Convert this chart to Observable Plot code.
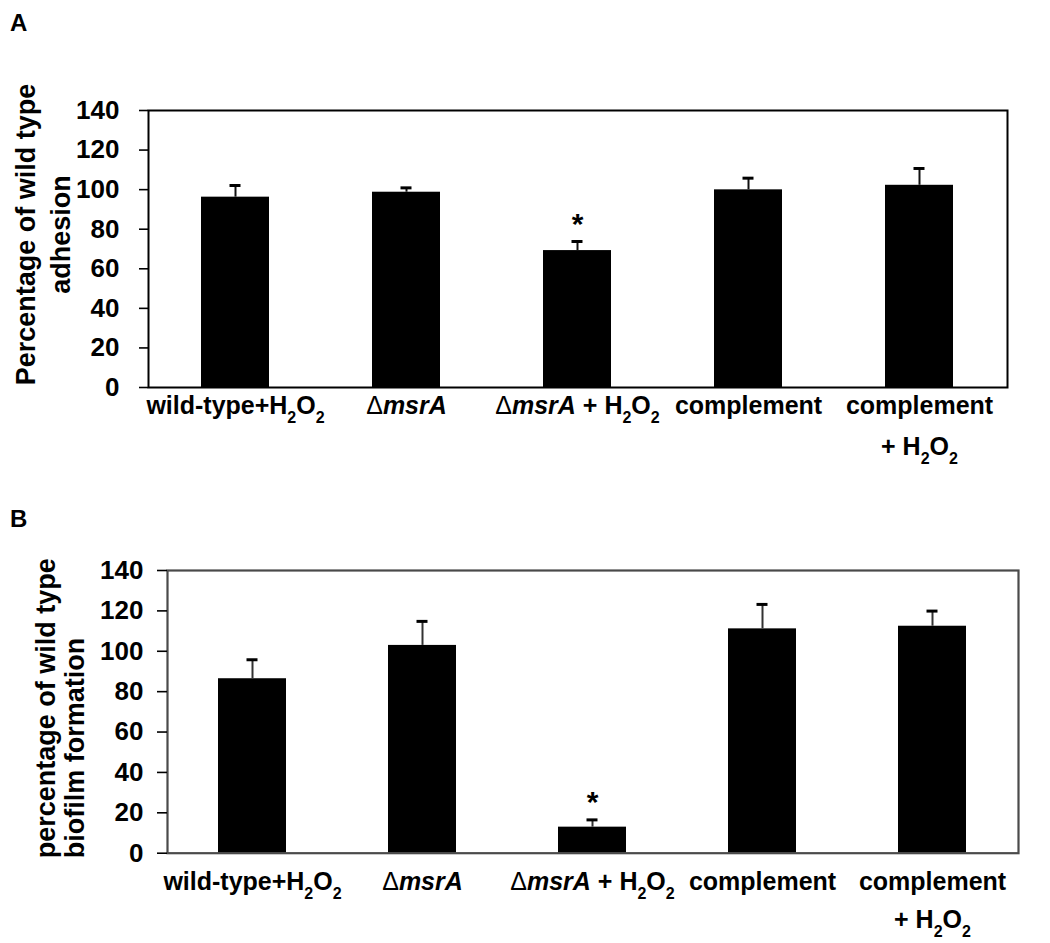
<!DOCTYPE html>
<html>
<head>
<meta charset="utf-8">
<script src="https://cdn.jsdelivr.net/npm/d3@7"></script>
<script src="https://cdn.jsdelivr.net/npm/@observablehq/plot@0.6"></script>
<style>
  html, body { margin: 0; padding: 0; background: white; }
  #wrap { position: relative; width: 1050px; height: 943px; overflow: hidden; font-family: "Liberation Sans", Arial, sans-serif; }
  .panel { position: absolute; left: 0; }
  .letter { position: absolute; left: 10px; font-weight: bold; font-size: 24px; line-height: 24px; z-index: 5; }
</style>
</head>
<body>
<div id="wrap">
  <div id="panelA" class="panel" style="top:0px"></div>
  <div id="panelB" class="panel" style="top:470px"></div>
  <div class="letter" style="top:11px">A</div>
  <div class="letter" style="top:507px">B</div>
</div>
<script>
// ---- data ----
const categories = ["wild-type+H2O2", "ΔmsrA", "ΔmsrA + H2O2", "complement", "complement\n+ H2O2"];
const adhesion = [96.2, 98.7, 69.2, 99.9, 102.2];
const adhesionErr = [5.9, 2.2, 4.6, 5.9, 8.5];
const biofilm = [86.4, 102.9, 12.9, 111.1, 112.4];
const biofilmErr = [9.4, 11.9, 3.6, 12.1, 7.5];
const significance = ["", "", "*", "", ""];
const yTicks = [0, 20, 40, 60, 80, 100, 120, 140];
const titleA = "Percentage of wild type\nadhesion";
const titleB = "percentage of wild type\nbiofilm formation";

function segments(s) {
  const out = [];
  let i = 0;
  while (i < s.length) {
    if (s.startsWith("msrA", i)) { out.push({t: "msrA", style: "italic"}); i += 4; continue; }
    const c = s[i];
    if (c === "2" && i > 0 && /[HO]/.test(s[i - 1])) { out.push({t: "2", style: "sub"}); i++; continue; }
    if (c === "Δ") { out.push({t: "Δ", style: "delta"}); i++; continue; }
    const last = out[out.length - 1];
    if (last && last.style === "plain") last.t += c; else out.push({t: c, style: "plain"});
    i++;
  }
  return out;
}

function richLabel(textEl, label, lh) {
  const NS = "http://www.w3.org/2000/svg";
  while (textEl.firstChild) textEl.removeChild(textEl.firstChild);
  textEl.removeAttribute("y");
  textEl.removeAttribute("dy");
  label.split("\n").forEach((line, li) => {
    const lt = document.createElementNS(NS, "tspan");
    lt.setAttribute("x", 0);
    lt.setAttribute("y", `${0.71 + li * lh}em`);
    let shift = 0;
    segments(line).forEach(seg => {
      const t = document.createElementNS(NS, "tspan");
      t.textContent = seg.t;
      if (seg.style === "sub") {
        t.setAttribute("font-size", "16px");
        t.setAttribute("dy", 9 - shift);
        shift = 9;
      } else {
        if (shift) { t.setAttribute("dy", -shift); shift = 0; }
        if (seg.style === "italic") t.setAttribute("font-style", "italic");
        if (seg.style === "delta") t.setAttribute("font-weight", "normal");
      }
      lt.appendChild(t);
    });
    textEl.appendChild(lt);
  });
}

function panel(values, errs, title, o) {
  const data = categories.map((c, i) => ({
    name: c, value: values[i], hi: values[i] + errs[i], star: significance[i]
  }));
  const chart = Plot.plot({
    width: 1050,
    height: o.height,
    marginTop: o.mt, marginBottom: o.mb, marginLeft: o.ml, marginRight: o.mr,
    style: {fontFamily: '"Liberation Sans", Arial, sans-serif', fontWeight: "bold", color: "black", background: "white", overflow: "visible"},
    x: {domain: categories, paddingInner: 0.6, paddingOuter: 0.3},
    y: {domain: [0, 140]},
    marks: [
      Plot.barY(data, {x: "name", y: "value", fill: "black"}),
      Plot.ruleX(data, {x: "name", y1: "value", y2: "hi", stroke: o.errColor, strokeWidth: 2}),
      Plot.tickY(data, {x: "name", y: "hi", stroke: "black", strokeWidth: 3, insetLeft: 28.5, insetRight: 28.5}),
      Plot.text(data, {x: "name", y: "hi", text: "star", dy: -17.5, fontSize: 30, fontWeight: "bold"}),
      Plot.frame({stroke: o.frameColor, strokeWidth: o.frameWidth}),
      Plot.axisY({ticks: yTicks, tickSize: o.tickSize, tickPadding: o.tickPadding, fontSize: 26, strokeWidth: 1.6, label: null}),
      Plot.axisX({tickSize: 0, tickPadding: o.xPad, fontSize: 25, label: null}),
      Plot.text([title], {frameAnchor: o.titleAnchor, textAnchor: o.titleTextAnchor, lineAnchor: "middle", rotate: -90, dx: o.titleDx, dy: o.titleDy, fontSize: 27, lineHeight: o.titleLH, text: d => d})
    ]
  });
  chart.querySelectorAll('g[aria-label="x-axis tick label"] text').forEach((t, i) => richLabel(t, categories[i], o.xLH));
  return chart;
}

document.getElementById("panelA").appendChild(panel(adhesion, adhesionErr, titleA, {
  height: 470, mt: 110, mb: 83, ml: 148, mr: 43,
  frameColor: "black", frameWidth: 2, errColor: "#111",
  tickSize: 9, tickPadding: 20, xPad: 9, xLH: 1.64,
  titleAnchor: "left", titleTextAnchor: "middle", titleDx: -107, titleDy: -14.5, titleLH: 1.27
}));
document.getElementById("panelB").appendChild(panel(biofilm, biofilmErr, titleB, {
  height: 473, mt: 100, mb: 90.3, ml: 167, mr: 32,
  frameColor: "#4a4a4a", frameWidth: 2.2, errColor: "#333",
  tickSize: 10, tickPadding: 14, xPad: 19, xLH: 1.52,
  titleAnchor: "bottom-left", titleTextAnchor: "start", titleDx: -107, titleDy: 5, titleLH: 1.04
}));
</script>
</body>
</html>
